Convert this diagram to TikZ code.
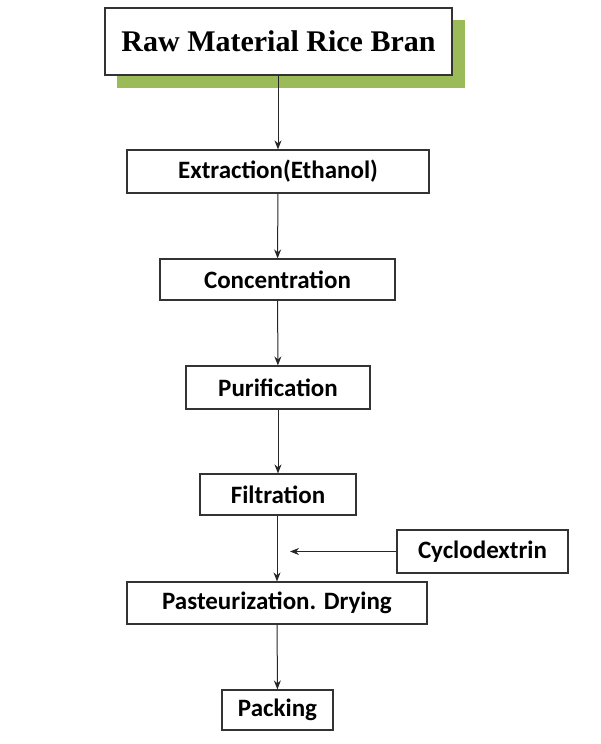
\documentclass[tikz,border=0pt]{standalone}
\usepackage{fontspec}
\usetikzlibrary{arrows.meta}
\setmainfont{Carlito}
\newfontfamily\serifb{Liberation Serif}
\begin{document}
\begin{tikzpicture}[x=1pt,y=-1pt,
 box/.style={draw=black!80,line width=1.2pt,fill=white,inner sep=0pt,font=\fontsize{25}{28}\selectfont\bfseries},
 arr/.style={draw=black!85,line width=1pt,-{Stealth[length=9pt,width=7pt]}}]
\useasboundingbox (0,0) rectangle (600,744);
\fill[fill={rgb,255:red,155;green,187;blue,89}] (117,20) rectangle (465,88);
\node[box,minimum width=347pt,minimum height=67pt,font=\fontsize{30}{34}\selectfont\serifb\bfseries] (raw) at (278.5,41.5) {Raw Material Rice Bran};
\node[box,minimum width=302pt,minimum height=43pt] (ext) at (278,171.5) {Extraction(Ethanol)};
\node[box,minimum width=235pt,minimum height=41pt] (con) at (277.5,279.5) {Concentration};
\node[box,minimum width=184pt,minimum height=43pt] (pur) at (278,387.5) {Purification};
\node[box,minimum width=156pt,minimum height=41pt] (fil) at (278,494.5) {Filtration};
\node[box,minimum width=171pt,minimum height=43pt] (cyc) at (482.5,551.5) {Cyclodextrin};
\node[box,minimum width=300pt,minimum height=42pt] (pas) at (277,603) {Pasteurization. Drying};
\node[box,minimum width=111pt,minimum height=40pt] (pac) at (277.5,710) {Packing};
\coordinate (j) at (290,551.5);
\draw[arr] (raw.south -| ext.north) -- (ext.north);
\draw[arr] (ext) -- (con);
\draw[arr] (con) -- (pur);
\draw[arr] (pur) -- (fil);
\draw[arr] (fil.south -| pas.north) -- (pas.north);
\draw[arr] (pas) -- (pac);
\draw[arr] (cyc.west) -- (j);
\end{tikzpicture}
\end{document}
